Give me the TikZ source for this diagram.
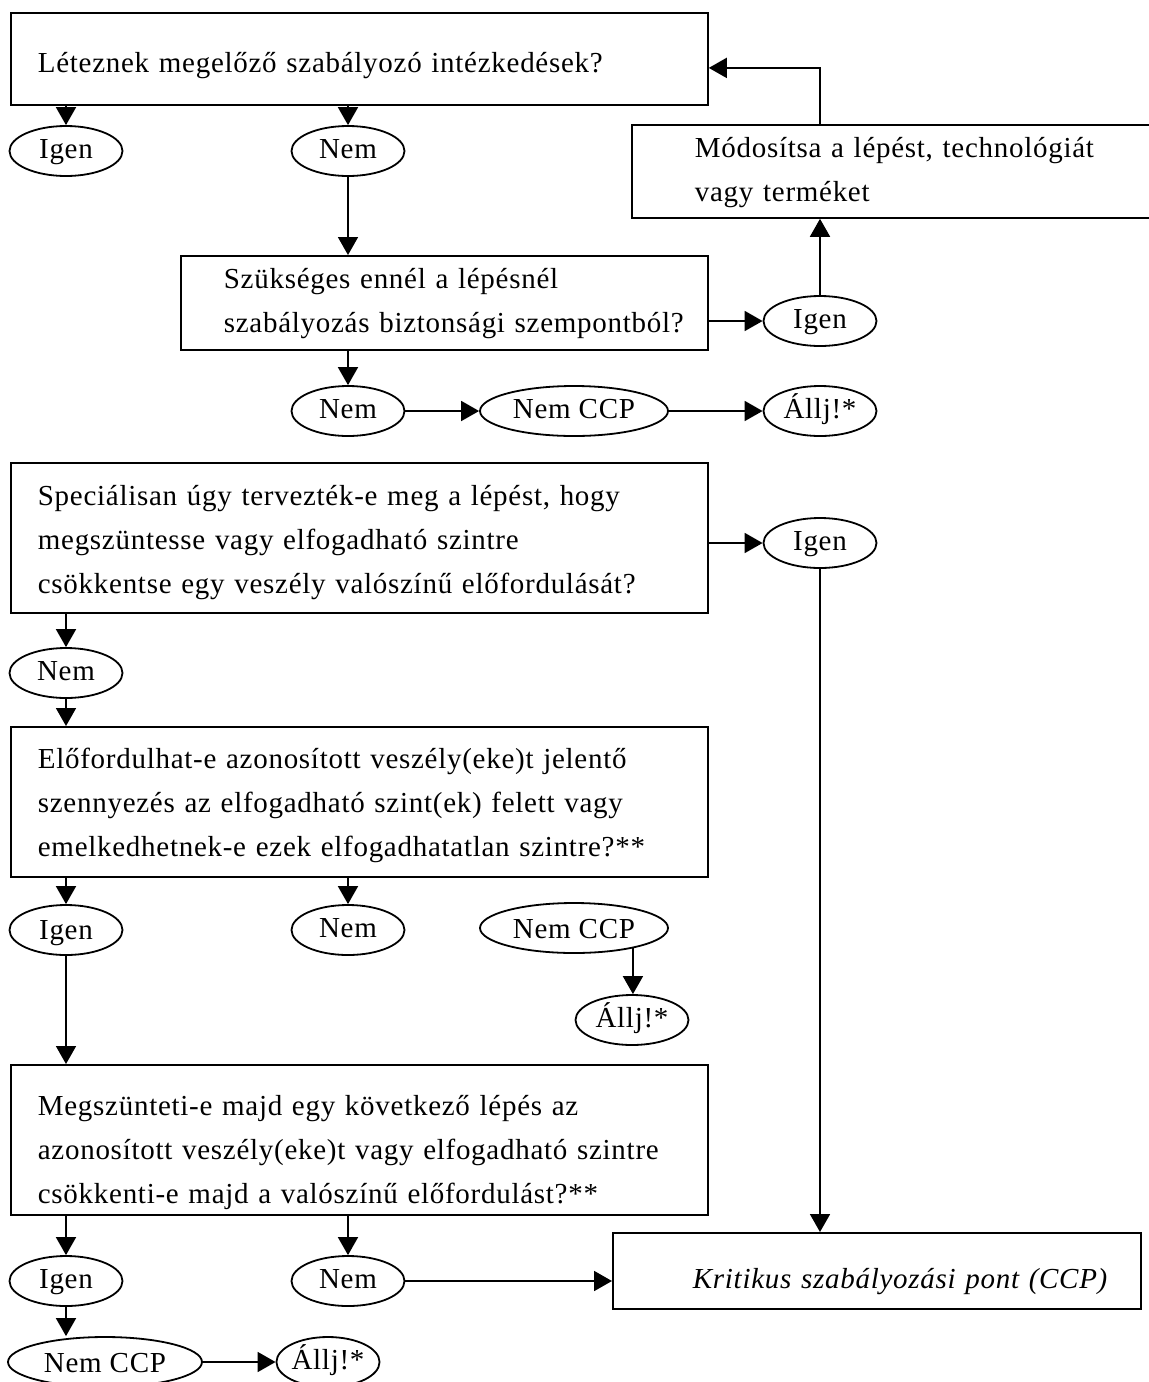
\documentclass[tikz,border=0pt]{standalone}
\usepackage{fontspec}
\setmainfont{Liberation Serif}[LetterSpace=2.5]
\usetikzlibrary{shapes.geometric,arrows.meta}

\newcommand{\boxinset}[1]{\leftskip=#1\relax}

\tikzset{
  qbox/.style={rectangle, draw, line width=0.9pt, anchor=north west, align=left, inner sep=0pt},
  oval/.style={ellipse, draw, line width=0.9pt, minimum width=56.5pt, minimum height=25pt, inner sep=0pt, text height=10pt, text depth=3pt},
  wideoval/.style={oval, minimum width=94pt},
  flow/.style={-{Triangle[length=9pt,width=10pt]}, line width=0.9pt}
}

\begin{document}
\begin{tikzpicture}[x=0.5pt, y=-0.5pt, every node/.style={font=\fontsize{14.5}{22}\selectfont}]
\useasboundingbox (0,0) rectangle (1148,1382);

% question boxes
\node (b1) [qbox, text width=348.5pt, text height=30pt, text depth=16pt] at (10,12) {\boxinset{13.5pt}Léteznek megelőző szabályozó intézkedések?\par};
\node (mod) [qbox, text width=268pt, text height=16.5pt, text depth=30pt] at (631,124) {\boxinset{31.5pt}Módosítsa a lépést, technológiát\\vagy terméket\par};
\node (b2) [qbox, text width=263.5pt, text height=16.5pt, text depth=30.5pt] at (180,255) {\boxinset{21.5pt}Szükséges ennél a lépésnél\\szabályozás biztonsági szempontból?\par};
\node (b3) [qbox, text width=348.5pt, text height=21.5pt, text depth=53.5pt] at (10,462) {\boxinset{13.5pt}Speciálisan úgy tervezték-e meg a lépést, hogy\\megszüntesse vagy elfogadható szintre\\csökkentse egy veszély valószínű előfordulását?\par};
\node (b4) [qbox, text width=348.5pt, text height=21pt, text depth=54pt] at (10,726) {\boxinset{13.5pt}Előfordulhat-e azonosított veszély(eke)t jelentő\\szennyezés az elfogadható szint(ek) felett vagy\\emelkedhetnek-e ezek elfogadhatatlan szintre?**\par};
\node (b5) [qbox, text width=348.5pt, text height=25.5pt, text depth=49.5pt] at (10,1064) {\boxinset{13.5pt}Megszünteti-e majd egy következő lépés az\\azonosított veszély(eke)t vagy elfogadható szintre\\csökkenti-e majd a valószínű előfordulást?**\par};
\node (ccp) [qbox, text width=264pt, text height=28pt, text depth=10pt] at (612,1232) {\boxinset{40pt}\itshape Kritikus szabályozási pont (CCP)\par};

% answers
\node (i1) [oval] at (66,151) {Igen};
\node (n1) [oval] at (348,151) {Nem};
\node (i2) [oval] at (820,321) {Igen};
\node (n2) [oval] at (348,411) {Nem};
\node (nc1) [wideoval] at (574,411) {Nem CCP};
\node (s1) [oval] at (820,411) {Állj!*};
\node (i3) [oval] at (820,543) {Igen};
\node (n3) [oval] at (66,673) {Nem};
\node (i4) [oval, text depth=1pt] at (66,930) {Igen};
\node (n4) [oval] at (348,930) {Nem};
\node (nc4) [wideoval, text depth=0pt] at (574,928) {Nem CCP};
\node (s4) [oval] at (632,1020) {Állj!*};
\node (i5) [oval] at (66,1281) {Igen};
\node (n5) [oval] at (348,1281) {Nem};
\node (nc5) [oval, minimum width=97pt, text depth=0pt] at (105,1362) {Nem CCP};
\node (s5) [oval, minimum width=39pt] at (328,1362) {Állj!*};

% connectors
\draw[flow] (i1 |- b1.south) -- (i1.north);
\draw[flow] (n1 |- b1.south) -- (n1.north);
\draw[flow] (n1.south) -- (n1 |- b2.north);
\draw[flow] (b2.east |- i2) -- (i2.west);
\draw[flow] (i2.north) -- (i2 |- mod.south);
\draw[flow] (mod.north -| i2) |- ([yshift=-4.5pt]b1.east);
\draw[flow] (n2 |- b2.south) -- (n2.north);
\draw[flow] (n2.east) -- (nc1.west);
\draw[flow] (nc1.east) -- (s1.west);
\draw[flow] (b3.east |- i3) -- (i3.west);
\draw[flow] (i3.south) -- (i3 |- ccp.north);
\draw[flow] (n3 |- b3.south) -- (n3.north);
\draw[flow] (n3.south) -- (n3 |- b4.north);
\draw[flow] (i4 |- b4.south) -- (i4.north);
\draw[flow] (n4 |- b4.south) -- (n4.north);
\draw[flow] (nc4.-19) -- (nc4.-19 |- s4.north);
\draw[flow] (i4.south) -- (i4 |- b5.north);
\draw[flow] (i5 |- b5.south) -- (i5.north);
\draw[flow] (n5 |- b5.south) -- (n5.north);
\draw[flow] (n5.east) -- (n5 -| ccp.west);
\draw[flow] (i5.south) -- (i5 |- nc5.north);
\draw[flow] (nc5.east) -- (s5.west);
\end{tikzpicture}
\end{document}
